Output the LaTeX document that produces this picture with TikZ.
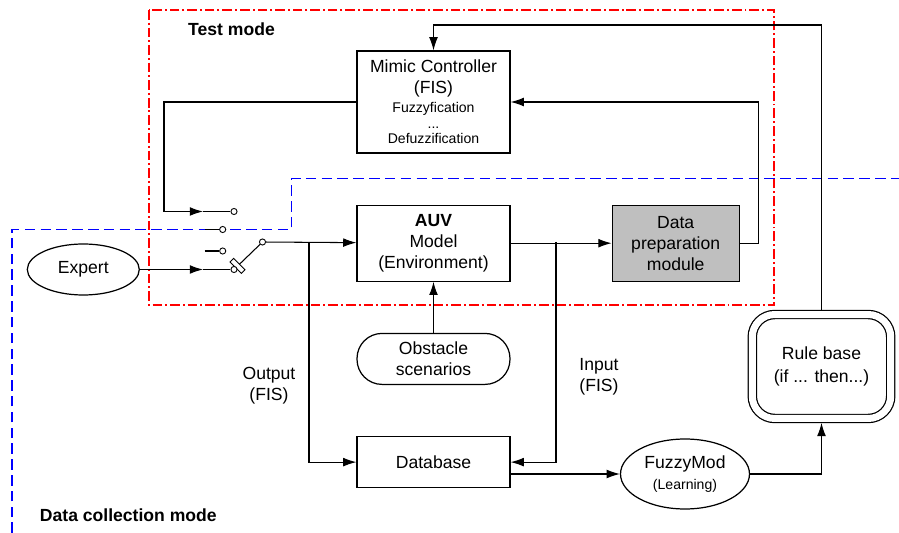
\documentclass[tikz,border=0pt]{standalone}
\usepackage{fontspec}
\setmainfont{Liberation Sans}
\usetikzlibrary{arrows.meta,positioning,calc,shapes.geometric}

\newcommand\smalltext{\fontsize{8}{9.5}\selectfont}

\begin{document}
\begin{tikzpicture}[x=0.02cm, y=-0.02cm, line width=0.6pt, >={Latex[length=7.5pt,width=5pt]}]

\tikzset{every node/.style = {font=\fontsize{10}{12}\selectfont}}
\tikzstyle{block} = [rectangle, draw, line width=0.7pt, minimum width=3.06cm, minimum height=1.52cm, align=center, inner sep=2pt]
\tikzstyle{blob} = [ellipse, draw, line width=0.7pt, align=center, inner sep=0pt]
\tikzstyle{contact} = [circle, draw, fill=white, line width=0.5pt, inner sep=0pt, minimum size=3.5pt]
\tikzstyle{mode} = [font=\fontsize{10}{12}\selectfont\bfseries]

\useasboundingbox (0,0) rectangle (899,533);

% mode frames
\draw[red, line width=0.7pt, dash pattern=on 5.5pt off 1.7pt on 1.1pt off 1.7pt] (149,10) rectangle (774,305);
\draw[blue, line width=0.9pt, dash pattern=on 6pt off 3pt] (12,533) -- (12,229.5) -- (291.5,229.5) -- (291.5,178.5) -- (899,178.5);

\node[mode] (test_lbl) at (231.5,29)  {Test mode};
\node[mode] (dc_lbl)   at (128.3,515) {Data collection mode};

% blocks
\node[block, minimum height=2.04cm] (mc) at (433.5,102)
  {Mimic Controller\\(FIS)\\[-1.5pt]{\smalltext Fuzzyfication}\\[-3pt]{\smalltext ...}\\[-3pt]{\smalltext Defuzzification}};
\node[block]                                        (auv) [below=1.02cm of mc]  {\textbf{AUV}\\Model\\(Environment)};
\node[block, fill=black!25, minimum width=2.54cm]   (dp)  [right=2.02cm of auv] {Data\\preparation\\module};
\node[block, rounded corners=0.5cm, minimum height=1.02cm] (obs) [below=1.02cm of auv] {Obstacle\\scenarios};
\node[block, minimum height=1.02cm]                 (db)  [below=1.02cm of obs] {Database};
\node[blob, minimum width=2.24cm, minimum height=1.02cm] (expert) at (83.3,269.5) {Expert};
\node[blob, minimum width=2.58cm, minimum height=1.4cm]  (fm)     at (685,474)    {FuzzyMod\\{\smalltext (Learning)}};
\node[block, rounded corners=0.45cm, double, double distance=0.14cm, outer sep=2.5pt,
      minimum width=2.77cm, minimum height=2.08cm] (rb) at (821.5,366.5) {Rule base\\[1pt](if ... then...)};

% switch
\node[contact] (c1)  at (234,211.5) {};
\node[contact] (c2)  at (222.7,229.5) {};
\node[contact] (c3)  at (222.7,251) {};
\node[contact] (pin) at (262.5,242) {};
\coordinate (pv) at (234,269.5);
\coordinate (sw_in1) at (203,211.5);
\coordinate (sw_in2) at ($(pv)+(-31,0)$);
\draw (pv) -- (pin);
\draw[fill=white, line width=0.5pt] (245,269.7) -- (241.4,273.3) -- (230,261.9) -- (233.6,258.3) -- cycle;
\node[contact] (pivot) at (pv) {};
\draw (sw_in1) -- (c1);
\draw ($(c2)+(-18,0)$) -- (c2);
\draw ($(c3)+(-18,0)$) -- (c3);
\draw (sw_in2) -- (pivot);

% connectors
\coordinate (fb_left)   at (164,102);
\coordinate (fb_top)    at (433.5,25);
\coordinate (out_split) at (309,242);
\coordinate (in_split)  at (556,242);
\coordinate (dp_right)  at ($(dp.east)+(19,0)$);

\draw[->] (mc.west) -- (fb_left) |- (sw_in1);
\draw[->] (expert) -- (sw_in2);
\draw[->] (pin) -- (auv);
\draw[->] (out_split) |- (db);
\draw[->] (auv) -- (dp);
\draw[->] (in_split) |- (db);
\draw[->] (obs) -- (auv);
\draw[->] (dp.east) -- (dp_right) |- (mc.east);
\draw[->] (rb.north) |- (fb_top) -- (mc.north);
\draw[->] (db.east |- fm.west) -- (fm.west);
\draw[->] (fm.east) -| (rb.south);

\node[align=center] (out_lbl) at (269,386) {Output\\(FIS)};
\node[align=center] (in_lbl)  at (599,377) {Input\\(FIS)};

\end{tikzpicture}
\end{document}
